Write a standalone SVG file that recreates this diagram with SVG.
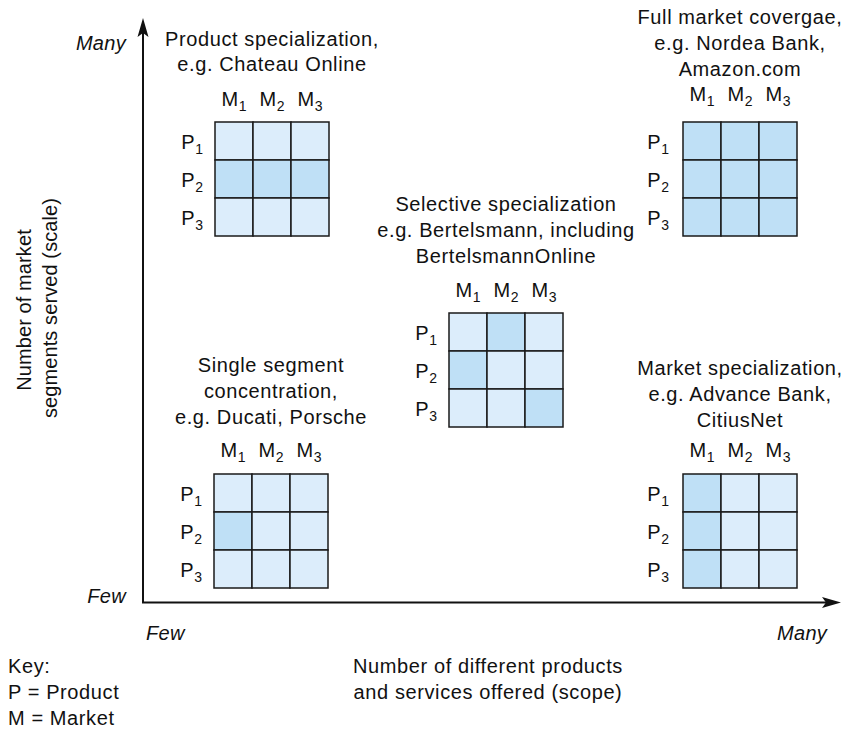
<svg xmlns="http://www.w3.org/2000/svg" width="848" height="738" viewBox="0 0 848 738">
<defs>
<style>
text{font-family:"Liberation Sans",Arial,Helvetica,sans-serif;font-size:20px;fill:#111;letter-spacing:0.6px}
.c{text-anchor:middle}
.e{text-anchor:end}
.i{font-style:italic;letter-spacing:0.3px}
.s{font-size:14px;letter-spacing:0}
.y{letter-spacing:0.1px}
.cell{stroke:#1a1a1a;stroke-width:1.5}
.l{fill:#dcedfb}
.d{fill:#bfe0f6}
.ax{stroke:#111;stroke-width:2;fill:none}
.ah{fill:#111;stroke:none}
</style>
</defs>
<rect x="0" y="0" width="848" height="738" style="fill:#fff;stroke:none"/>

<g id="connectors">
<line class="ax" x1="143" y1="603" x2="143" y2="30"/>
<path class="ah" d="M143,18 L137.5,37 L143,33 L148.5,37 Z"/>
<line class="ax" x1="142" y1="602.5" x2="830" y2="602.5"/>
<path class="ah" d="M841,602.5 L822,597 L826,602.5 L822,608 Z"/>
</g>

<g id="axis-labels">
<text class="i e" x="126" y="50">Many</text>
<text class="i e" x="126" y="603">Few</text>
<text class="i" x="146" y="640">Few</text>
<text class="i" x="777" y="640">Many</text>
<text class="c y" transform="translate(31,310) rotate(-90)">Number of market</text>
<text class="c y" transform="translate(57,308) rotate(-90)">segments served (scale)</text>
<text class="c" x="488" y="673">Number of different products</text>
<text class="c" x="488" y="699">and services offered (scope)</text>
</g>

<g id="key">
<text x="8" y="673">Key:</text>
<text x="8" y="699">P = Product</text>
<text x="8" y="725">M = Market</text>
</g>

<g id="product-specialization">
<text class="c" x="272" y="46">Product specialization,</text>
<text class="c" x="272" y="71">e.g. Chateau Online</text>
<text class="c" x="234" y="106">M<tspan class="s" dy="5">1</tspan></text>
<text class="c" x="272" y="106">M<tspan class="s" dy="5">2</tspan></text>
<text class="c" x="310" y="106">M<tspan class="s" dy="5">3</tspan></text>
<text class="e" x="203" y="148.5">P<tspan class="s" dy="5">1</tspan></text>
<text class="e" x="203" y="186.5">P<tspan class="s" dy="5">2</tspan></text>
<text class="e" x="203" y="224.5">P<tspan class="s" dy="5">3</tspan></text>
<rect class="cell l" x="215" y="122" width="38" height="38"/><rect class="cell l" x="253" y="122" width="38" height="38"/><rect class="cell l" x="291" y="122" width="38" height="38"/>
<rect class="cell d" x="215" y="160" width="38" height="38"/><rect class="cell d" x="253" y="160" width="38" height="38"/><rect class="cell d" x="291" y="160" width="38" height="38"/>
<rect class="cell l" x="215" y="198" width="38" height="38"/><rect class="cell l" x="253" y="198" width="38" height="38"/><rect class="cell l" x="291" y="198" width="38" height="38"/>
</g>

<g id="full-market-coverage">
<text class="c" x="740" y="24">Full market covergae,</text>
<text class="c" x="740" y="50">e.g. Nordea Bank,</text>
<text class="c" x="740" y="76">Amazon.com</text>
<text class="c" x="702" y="101">M<tspan class="s" dy="5">1</tspan></text>
<text class="c" x="740" y="101">M<tspan class="s" dy="5">2</tspan></text>
<text class="c" x="778" y="101">M<tspan class="s" dy="5">3</tspan></text>
<text class="e" x="669" y="148.5">P<tspan class="s" dy="5">1</tspan></text>
<text class="e" x="669" y="186.5">P<tspan class="s" dy="5">2</tspan></text>
<text class="e" x="669" y="224.5">P<tspan class="s" dy="5">3</tspan></text>
<rect class="cell d" x="683" y="122" width="38" height="38"/><rect class="cell d" x="721" y="122" width="38" height="38"/><rect class="cell d" x="759" y="122" width="38" height="38"/>
<rect class="cell d" x="683" y="160" width="38" height="38"/><rect class="cell d" x="721" y="160" width="38" height="38"/><rect class="cell d" x="759" y="160" width="38" height="38"/>
<rect class="cell d" x="683" y="198" width="38" height="38"/><rect class="cell d" x="721" y="198" width="38" height="38"/><rect class="cell d" x="759" y="198" width="38" height="38"/>
</g>

<g id="selective-specialization">
<text class="c" x="506" y="211">Selective specialization</text>
<text class="c" x="506" y="237">e.g. Bertelsmann, including</text>
<text class="c" x="506" y="263">BertelsmannOnline</text>
<text class="c" x="468" y="297">M<tspan class="s" dy="5">1</tspan></text>
<text class="c" x="506" y="297">M<tspan class="s" dy="5">2</tspan></text>
<text class="c" x="544" y="297">M<tspan class="s" dy="5">3</tspan></text>
<text class="e" x="437" y="339.5">P<tspan class="s" dy="5">1</tspan></text>
<text class="e" x="437" y="377.5">P<tspan class="s" dy="5">2</tspan></text>
<text class="e" x="437" y="415.5">P<tspan class="s" dy="5">3</tspan></text>
<rect class="cell l" x="449" y="313" width="38" height="38"/><rect class="cell d" x="487" y="313" width="38" height="38"/><rect class="cell l" x="525" y="313" width="38" height="38"/>
<rect class="cell d" x="449" y="351" width="38" height="38"/><rect class="cell l" x="487" y="351" width="38" height="38"/><rect class="cell l" x="525" y="351" width="38" height="38"/>
<rect class="cell l" x="449" y="389" width="38" height="38"/><rect class="cell l" x="487" y="389" width="38" height="38"/><rect class="cell d" x="525" y="389" width="38" height="38"/>
</g>

<g id="single-segment">
<text class="c" x="271" y="372">Single segment</text>
<text class="c" x="271" y="398">concentration,</text>
<text class="c" x="271" y="424">e.g. Ducati, Porsche</text>
<text class="c" x="233" y="457">M<tspan class="s" dy="5">1</tspan></text>
<text class="c" x="271" y="457">M<tspan class="s" dy="5">2</tspan></text>
<text class="c" x="309" y="457">M<tspan class="s" dy="5">3</tspan></text>
<text class="e" x="202" y="500.5">P<tspan class="s" dy="5">1</tspan></text>
<text class="e" x="202" y="538.5">P<tspan class="s" dy="5">2</tspan></text>
<text class="e" x="202" y="576.5">P<tspan class="s" dy="5">3</tspan></text>
<rect class="cell l" x="214" y="474" width="38" height="38"/><rect class="cell l" x="252" y="474" width="38" height="38"/><rect class="cell l" x="290" y="474" width="38" height="38"/>
<rect class="cell d" x="214" y="512" width="38" height="38"/><rect class="cell l" x="252" y="512" width="38" height="38"/><rect class="cell l" x="290" y="512" width="38" height="38"/>
<rect class="cell l" x="214" y="550" width="38" height="38"/><rect class="cell l" x="252" y="550" width="38" height="38"/><rect class="cell l" x="290" y="550" width="38" height="38"/>
</g>

<g id="market-specialization">
<text class="c" x="740" y="375">Market specialization,</text>
<text class="c" x="740" y="401">e.g. Advance Bank,</text>
<text class="c" x="740" y="427">CitiusNet</text>
<text class="c" x="702" y="457">M<tspan class="s" dy="5">1</tspan></text>
<text class="c" x="740" y="457">M<tspan class="s" dy="5">2</tspan></text>
<text class="c" x="778" y="457">M<tspan class="s" dy="5">3</tspan></text>
<text class="e" x="669" y="500.5">P<tspan class="s" dy="5">1</tspan></text>
<text class="e" x="669" y="538.5">P<tspan class="s" dy="5">2</tspan></text>
<text class="e" x="669" y="576.5">P<tspan class="s" dy="5">3</tspan></text>
<rect class="cell d" x="683" y="474" width="38" height="38"/><rect class="cell l" x="721" y="474" width="38" height="38"/><rect class="cell l" x="759" y="474" width="38" height="38"/>
<rect class="cell d" x="683" y="512" width="38" height="38"/><rect class="cell l" x="721" y="512" width="38" height="38"/><rect class="cell l" x="759" y="512" width="38" height="38"/>
<rect class="cell d" x="683" y="550" width="38" height="38"/><rect class="cell l" x="721" y="550" width="38" height="38"/><rect class="cell l" x="759" y="550" width="38" height="38"/>
</g>
</svg>
